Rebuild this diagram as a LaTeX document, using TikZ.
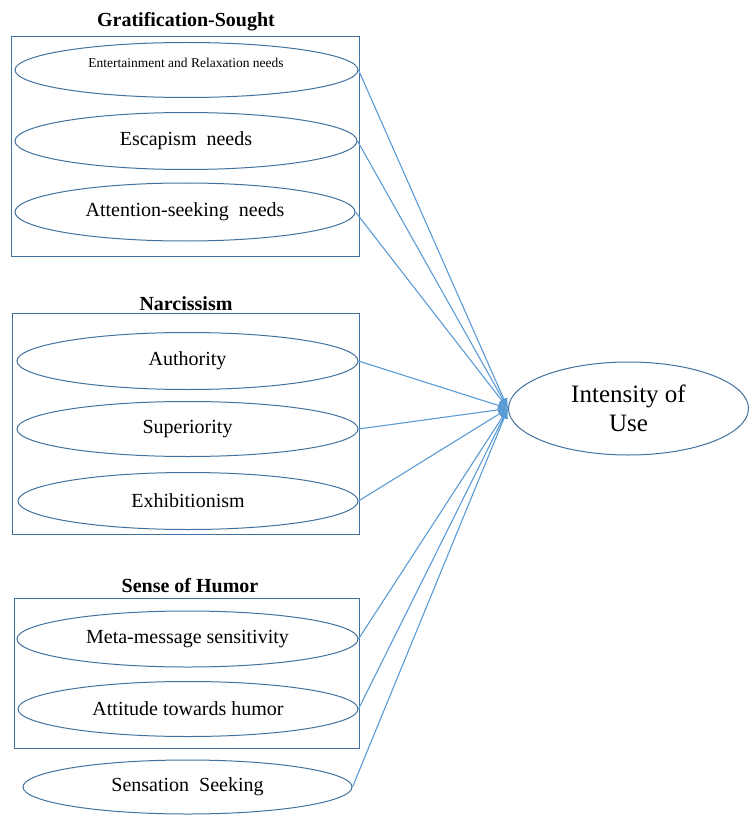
\documentclass[tikz,border=0pt]{standalone}
\usepackage{fontspec}
\setmainfont{Liberation Serif}
\usetikzlibrary{shapes.geometric,arrows.meta}
\definecolor{shapeblue}{HTML}{41719C}
\definecolor{linkblue}{HTML}{5B9BD5}
\tikzset{
  grpbox/.style={draw=shapeblue, line width=1pt},
  oval/.style={ellipse, draw=shapeblue, line width=1pt, inner sep=0pt, font=\fontsize{20}{22}\selectfont},
  grptitle/.style={font=\fontsize{20}{22}\selectfont\bfseries, inner sep=0pt},
  link/.style={draw=linkblue, line width=1.1pt, -{Latex[length=10pt,width=8pt]}},
}
\begin{document}
\begin{tikzpicture}[x=1pt,y=-1pt]
\useasboundingbox (0,0) rectangle (748,821);
% group boxes
\node[grpbox, minimum width=348pt, minimum height=220pt, anchor=north west, inner sep=0pt] (b1) at (11,36) {};
\node[grptitle] (t1) at (186,22) {Gratification-Sought};
\node[grpbox, minimum width=347pt, minimum height=221pt, anchor=north west, inner sep=0pt] (b2) at (12,313) {};
\node[grptitle] (t2) at (186,304) {Narcissism};
\node[grpbox, minimum width=345pt, minimum height=150pt, anchor=north west, inner sep=0pt] (b3) at (14,598) {};
\node[grptitle] (t3) at (190,586) {Sense of Humor};
% ovals
\node[oval, minimum width=343pt, minimum height=55pt] (e1) at (186.5,70) {};
\node[inner sep=0pt, font=\fontsize{13.5}{15}\selectfont] (e1t) at (186,63) {Entertainment and Relaxation needs};
\node[oval, minimum width=342pt, minimum height=57pt] (e2) at (186,141) {Escapism\ \ needs};
\node[oval, minimum width=340pt, minimum height=58pt] (e3) at (185,212) {Attention-seeking\ \ needs};
\node[oval, minimum width=341pt, minimum height=57pt] (e4) at (187.5,361) {Authority};
\node[oval, minimum width=341pt, minimum height=55pt] (e5) at (187.5,429) {Superiority};
\node[oval, minimum width=340pt, minimum height=57pt] (e6) at (188,501) {Exhibitionism};
\node[oval, minimum width=341pt, minimum height=56pt] (e7) at (187.5,639) {Meta-message sensitivity};
\node[oval, minimum width=340pt, minimum height=55pt] (e8) at (188,709) {Attitude towards humor};
\node[oval, minimum width=329pt, minimum height=54pt] (e9) at (187.5,787) {Sensation\ \ Seeking};
% target
\node[ellipse, draw=shapeblue, line width=1pt, inner sep=0pt, minimum width=240pt, minimum height=93pt, align=center, font=\fontsize{25}{29}\selectfont] (iu) at (628.5,408.5) {Intensity of\\Use};
% links
\foreach \e in {e1,e2,e3,e4,e5,e6,e7,e8,e9}{
  \draw[link] (\e.east) -- (iu.west);
}
\end{tikzpicture}
\end{document}
